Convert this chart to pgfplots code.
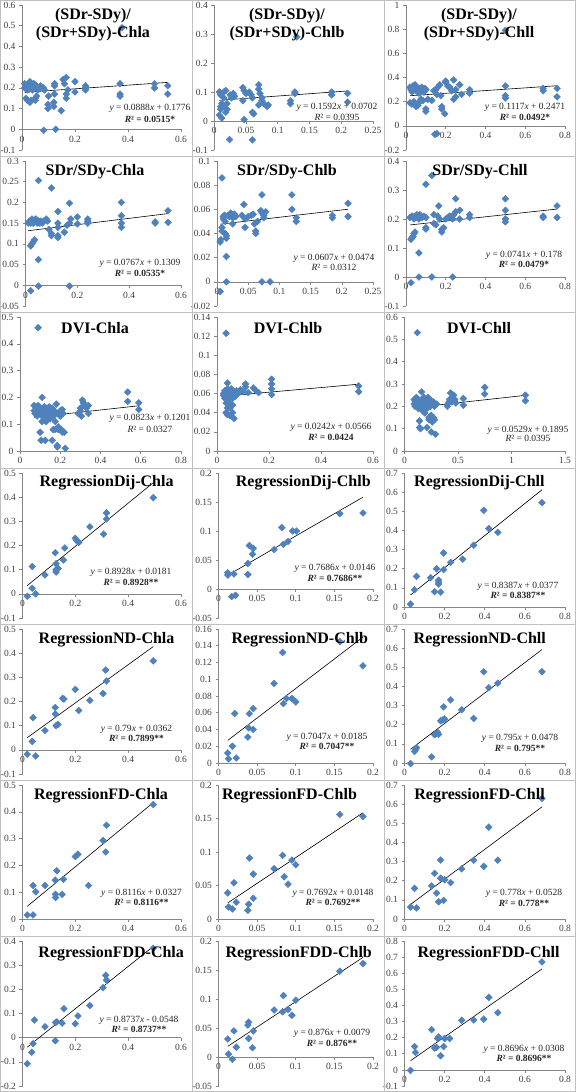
\documentclass[border=0pt]{standalone}
\usepackage{fontspec}
\setmainfont{Liberation Serif}
\usepackage{pgfplots}
\pgfplotsset{compat=1.18}
\definecolor{mk}{HTML}{4F81BD}
\definecolor{axg}{HTML}{868686}
\definecolor{lbl}{HTML}{404040}
\definecolor{cellb}{HTML}{C0C0C0}
\pgfplotsset{
 panel/.style={
  scale only axis, anchor=south west,
  axis x line*=middle, axis y line*=left,
  axis line style={axg, line width=0.6pt},
  tick style={axg, line width=0.6pt}, tick align=outside, major tick length=3pt,
  ticklabel style={font=\fontsize{9.5}{10}\selectfont, text=lbl},
  /pgf/number format/assume math mode=true,
  /pgf/number format/fixed, /pgf/number format/precision=2,
  hide obscured x ticks=false, hide obscured y ticks=false,
  clip=false, enlargelimits=false,
 },
 pts/.style={only marks, mark=square*, mark size=2.4pt, mark options={fill=mk, draw=mk, rotate=45}},
 trend/.style={black, line width=0.6pt, no marks},
}
\tikzset{
 ttf/.style={font=\fontsize{16}{18}\selectfont\bfseries, align=center, inner sep=0pt},
 eqf/.style={font=\fontsize{9.5}{11}\selectfont, inner sep=0pt, text=black!85},
}
\newcommand{\TT}[3]{\node[ttf] at (#1pt,-#2pt) {#3};}
\newcommand{\EQ}[5]{\node[eqf] at (#1pt,-#2pt) {#4}; \node[eqf] at (#1pt,-#3pt) {#5};}
\begin{document}
\begin{tikzpicture}
\useasboundingbox (0pt,0pt) rectangle (576pt,-1092pt);
\fill[white] (0pt,0pt) rectangle (576pt,-1092pt);
% ---------- Row 1 ----------
\begin{axis}[panel, at={(22pt,-150pt)}, width=159pt, height=145pt, xmin=0, xmax=0.6, ymin=-0.1, ymax=0.6,
 xtick={0,0.2,0.4,0.6}, ytick={-0.1,0,0.1,0.2,0.3,0.4,0.5,0.6}]
\addplot[pts] coordinates {(0.01,0.22)(0.01,0.2)(0.015,0.21)(0.02,0.19)(0.025,0.22)(0.03,0.23)(0.03,0.2)(0.035,0.21)(0.04,0.19)(0.045,0.22)(0.05,0.2)(0.055,0.21)(0.06,0.19)(0.065,0.2)(0.07,0.21)(0.08,0.2)(0.085,0.19)
(0.015,0.15)(0.02,0.14)(0.03,0.13)(0.035,0.14)(0.05,0.15)(0.055,0.16)(0.05,0.14)
(0.082,-0.005)(0.098,0.1)(0.098,0.12)(0.1,0.16)(0.123,0.22)(0.123,0.21)(0.123,0.17)(0.12,0.11)(0.12,0.13)(0.127,0)(0.148,0.09)(0.155,0.24)(0.16,0.22)(0.167,0.25)(0.167,0.15)(0.167,0.17)(0.173,0.19)(0.2,0.23)(0.2,0.18)(0.24,0.21)(0.24,0.2)(0.24,0.19)(0.37,0.22)(0.37,0.17)(0.37,0.16)(0.5,0.22)(0.5,0.2)(0.55,0.21)(0.55,0.17)(0.377,0.49)};
\addplot[trend] coordinates {(0.01,0.1785)(0.55,0.2264)};
\end{axis}
\begin{axis}[panel, at={(214.3pt,-150pt)}, width=158.7pt, height=145pt, xmin=0, xmax=0.25, ymin=-0.1, ymax=0.4,
 xtick={0,0.05,0.1,0.15,0.2,0.25}, ytick={-0.1,0,0.1,0.2,0.3,0.4}]
\addplot[pts] coordinates {(0.008,0.1)(0.01,0.09)(0.01,0.05)(0.01,0.04)(0.008,0.02)(0.012,0.01)(0.012,0.06)(0.015,0.1)(0.015,0.08)(0.015,0.05)(0.018,0.03)(0.018,0.105)(0.02,0.06)(0.02,0.04)
(0.025,0.09)(0.027,0.08)(0.03,0.095)(0.032,0.085)(0.024,-0.064)
(0.045,0.115)(0.047,0.105)(0.05,0.095)(0.045,0.07)(0.047,0.005)(0.055,0.1)(0.058,0.09)(0.06,0.08)(0.06,0.03)(0.062,0.025)(0.06,-0.065)
(0.07,0.125)(0.07,0.11)(0.072,0.095)(0.075,0.08)(0.075,0.07)(0.078,0.06)(0.07,0.055)(0.085,0.055)(0.083,0.05)
(0.12,0.07)(0.12,0.06)(0.127,0.1)(0.127,0.095)(0.185,0.1)(0.185,0.09)(0.21,0.095)(0.21,0.065)(0.13,0.29)};
\addplot[trend] coordinates {(0.008,0.0715)(0.21,0.1036)};
\end{axis}
\begin{axis}[panel, at={(406pt,-150pt)}, width=159pt, height=145pt, xmin=0, xmax=0.8, ymin=-0.2, ymax=1,
 xtick={0,0.2,0.4,0.6,0.8}, ytick={-0.2,0,0.2,0.4,0.6,0.8,1}]
\addplot[pts] coordinates {(0.02,0.32)(0.025,0.3)(0.03,0.28)(0.035,0.33)(0.04,0.31)(0.045,0.34)(0.05,0.29)(0.055,0.32)(0.06,0.3)(0.065,0.27)(0.07,0.31)(0.075,0.29)(0.08,0.32)(0.085,0.3)(0.09,0.28)(0.095,0.31)(0.1,0.3)
(0.02,0.19)(0.03,0.18)(0.04,0.2)(0.05,0.16)(0.06,0.17)(0.07,0.2)(0.075,0.22)(0.085,0.21)
(0.1,0.14)(0.1,0.12)(0.11,0.22)(0.13,0.21)(0.14,0.29)(0.15,0.3)(0.155,0.26)(0.16,0.32)(0.17,0.34)(0.175,0.25)(0.18,0.16)(0.18,0.14)(0.195,0.1)(0.2,0.36)(0.2,0.37)(0.21,0.33)(0.22,0.32)(0.23,0.29)(0.24,0.38)(0.24,0.22)(0.25,0.24)(0.25,0.3)(0.27,0.34)(0.28,0.26)
(0.145,-0.07)(0.155,-0.065)(0.32,0.3)(0.32,0.27)(0.5,0.33)(0.5,0.25)(0.5,0.23)(0.69,0.31)(0.69,0.29)(0.76,0.31)(0.76,0.24)(0.5,0.79)};
\addplot[trend] coordinates {(0.02,0.2493)(0.76,0.332)};
\end{axis}
% ---------- Row 2 ----------
\begin{axis}[panel, at={(25.5pt,-306pt)}, width=155.5pt, height=145pt, xmin=0, xmax=0.6, ymin=-0.05, ymax=0.3,
 xtick={0,0.2,0.4,0.6}, ytick={-0.05,0,0.05,0.1,0.15,0.2,0.25,0.3}]
\addplot[pts] coordinates {(0.01,0.15)(0.015,0.155)(0.02,0.15)(0.025,0.16)(0.03,0.15)(0.035,0.155)(0.04,0.16)(0.045,0.15)(0.05,0.155)(0.055,0.15)(0.06,0.155)(0.065,0.15)(0.07,0.155)(0.08,0.16)(0.085,0.155)
(0.02,0.095)(0.025,0.1)(0.03,0.105)(0.035,0.11)(0.02,-0.013)(0.05,-0.002)(0.05,0.062)(0.05,0.253)
(0.09,0.135)(0.1,0.12)(0.1,0.125)(0.1,0.235)(0.125,0.178)(0.125,0.15)(0.125,0.14)(0.125,0.115)(0.125,0.12)
(0.15,0.128)(0.16,0.145)(0.17,0.198)(0.17,0.15)(0.175,0.16)(0.17,-0.002)(0.2,0.165)(0.2,0.148)(0.24,0.16)(0.24,0.155)(0.24,0.15)
(0.37,0.2)(0.37,0.168)(0.37,0.15)(0.37,0.14)(0.5,0.153)(0.5,0.15)(0.55,0.18)(0.55,0.152)};
\addplot[trend] coordinates {(0.01,0.1317)(0.55,0.1731)};
\end{axis}
\begin{axis}[panel, at={(217pt,-306pt)}, width=156pt, height=145pt, xmin=0, xmax=0.25, ymin=-0.02, ymax=0.1,
 xtick={0,0.05,0.1,0.15,0.2,0.25}, ytick={-0.02,0,0.02,0.04,0.06,0.08,0.1}]
\addplot[pts] coordinates {(0.005,0.033)(0.006,0.035)(0.008,0.042)(0.008,0.045)(0.01,0.054)(0.01,0.052)(0.005,-0.008)(0.008,0.086)
(0.012,0.055)(0.013,0.05)(0.013,0.04)(0.015,0.038)(0.015,0.036)(0.015,0.021)(0.015,0)(0.017,0.055)
(0.02,0.054)(0.022,0.057)(0.025,0.053)(0.025,0.048)(0.028,0.056)(0.03,0.054)
(0.04,0.055)(0.043,0.064)(0.045,0.045)(0.045,0.052)(0.05,0.054)(0.055,0.055)(0.058,0.056)(0.06,0.048)(0.062,0.042)(0.062,0.04)(0.065,0.05)
(0.07,0.059)(0.072,0.072)(0.072,0.057)(0.075,0.055)(0.075,0.053)(0.078,0.058)(0.072,0)(0.085,0)
(0.12,0.072)(0.12,0.06)(0.127,0.053)(0.127,0.05)(0.185,0.055)(0.185,0.053)(0.21,0.065)(0.21,0.054)};
\addplot[trend] coordinates {(0.005,0.0477)(0.21,0.0601)};
\end{axis}
\begin{axis}[panel, at={(406pt,-306pt)}, width=159pt, height=145pt, xmin=0, xmax=0.8, ymin=-0.1, ymax=0.4,
 xtick={0,0.2,0.4,0.6,0.8}, ytick={-0.1,0,0.1,0.2,0.3,0.4}]
\addplot[pts] coordinates {(0.02,0.205)(0.03,0.21)(0.04,0.2)(0.045,0.21)(0.05,0.205)(0.055,0.215)(0.06,0.21)(0.065,0.2)(0.07,0.215)(0.075,0.21)(0.08,0.205)(0.09,0.21)(0.1,0.205)
(0.025,0.13)(0.03,0.135)(0.035,0.14)(0.04,0.15)(0.045,0.155)(0.025,-0.02)(0.065,0.083)(0.065,0)
(0.1,0.32)(0.1,0.17)(0.1,0.165)(0.13,0.35)(0.13,0)(0.14,0.215)(0.14,0.185)(0.15,0.18)(0.16,0.21)(0.165,0.245)(0.17,0.2)(0.18,0.155)(0.18,0.165)(0.19,0.17)(0.2,0.2)(0.21,0.205)(0.22,0.21)(0.235,0.2)(0.235,0)(0.24,0.215)(0.25,0.27)(0.25,0.225)(0.27,0.23)(0.27,0.2)
(0.32,0.215)(0.32,0.205)(0.5,0.27)(0.5,0.23)(0.5,0.2)(0.5,0.19)(0.69,0.21)(0.69,0.205)(0.76,0.245)(0.76,0.205)};
\addplot[trend] coordinates {(0.02,0.1795)(0.76,0.2343)};
\end{axis}
% ---------- Row 3 ----------
\begin{axis}[panel, at={(20pt,-451pt)}, width=161pt, height=134pt, xmin=0, xmax=0.8, ymin=0, ymax=0.5,
 xtick={0,0.2,0.4,0.6,0.8}, ytick={0,0.1,0.2,0.3,0.4,0.5}]
\addplot[pts] coordinates {(0.07,0.17)(0.07,0.15)(0.075,0.14)(0.08,0.16)(0.085,0.13)(0.09,0.15)(0.09,0.17)(0.1,0.14)(0.1,0.16)(0.1,0.07)(0.105,0.04)(0.11,0.2)(0.11,0.13)(0.11,0.11)(0.115,0.15)(0.12,0.165)(0.12,0.12)(0.125,0.14)(0.125,0.04)(0.13,0.16)(0.13,0.11)(0.135,0.15)(0.14,0.13)(0.145,0.165)(0.15,0.12)(0.15,0.15)(0.155,0.14)(0.16,0.16)(0.16,0.04)(0.165,0.08)(0.165,0.13)(0.17,0.15)(0.175,0.11)(0.175,0.08)(0.18,0.175)(0.18,0.14)(0.185,0.02)(0.185,0.015)(0.19,0.09)(0.19,0.08)(0.2,0.15)(0.2,0.13)(0.205,0.08)(0.21,0.155)(0.21,0.07)(0.215,0.14)(0.22,0.07)(0.225,0.01)
(0.29,0.14)(0.3,0.16)(0.3,0.15)(0.305,0.13)(0.31,0.19)(0.315,0.18)(0.32,0.17)(0.33,0.16)(0.34,0.14)(0.34,0.17)
(0.535,0.22)(0.535,0.185)(0.59,0.18)(0.59,0.155)(0.09,0.46)};
\addplot[trend] coordinates {(0.07,0.1259)(0.59,0.1687)};
\end{axis}
\begin{axis}[panel, at={(217pt,-451pt)}, width=156pt, height=134pt, xmin=0, xmax=0.6, ymin=0, ymax=0.14,
 xtick={0,0.2,0.4,0.6}, ytick={0,0.02,0.04,0.06,0.08,0.1,0.12,0.14}]
\addplot[pts] coordinates {(0.025,0.06)(0.025,0.058)(0.03,0.063)(0.03,0.055)(0.035,0.06)(0.035,0.05)(0.035,0.04)(0.04,0.071)(0.04,0.065)(0.04,0.058)(0.04,0.045)(0.04,0.038)(0.045,0.062)(0.045,0.055)(0.05,0.06)(0.05,0.05)(0.05,0.045)(0.05,0.037)(0.055,0.065)(0.055,0.058)(0.06,0.055)(0.06,0.048)(0.06,0.04)(0.065,0.062)(0.065,0.034)(0.07,0.06)(0.07,0.057)(0.075,0.063)(0.08,0.06)(0.09,0.064)(0.1,0.062)(0.11,0.067)(0.11,0.07)(0.12,0.061)(0.14,0.066)(0.15,0.063)(0.16,0.061)
(0.035,0.123)(0.21,0.075)(0.21,0.07)(0.21,0.065)(0.21,0.059)(0.545,0.068)(0.545,0.062)};
\addplot[trend] coordinates {(0.025,0.0572)(0.545,0.0698)};
\end{axis}
\begin{axis}[panel, at={(404.5pt,-451pt)}, width=160.5pt, height=134pt, xmin=0, xmax=1.5, ymin=0, ymax=0.6,
 xtick={0,0.5,1,1.5}, ytick={0,0.1,0.2,0.3,0.4,0.5,0.6}]
\addplot[pts] coordinates {(0.09,0.23)(0.09,0.21)(0.1,0.22)(0.1,0.2)(0.11,0.24)(0.12,0.21)(0.13,0.19)(0.13,0.23)(0.14,0.22)(0.14,0.135)(0.14,0.105)(0.15,0.2)(0.15,0.1)(0.16,0.265)(0.16,0.23)(0.17,0.18)(0.17,0.21)(0.18,0.24)(0.18,0.22)(0.19,0.2)(0.19,0.17)(0.2,0.23)(0.2,0.21)(0.21,0.19)(0.21,0.105)(0.22,0.24)(0.22,0.22)(0.23,0.15)(0.23,0.14)(0.24,0.2)(0.24,0.23)(0.25,0.16)(0.25,0.14)(0.25,0.085)(0.26,0.21)(0.26,0.13)(0.27,0.22)(0.27,0.15)(0.28,0.2)(0.28,0.14)(0.29,0.075)(0.3,0.21)
(0.4,0.2)(0.41,0.215)(0.42,0.23)(0.43,0.26)(0.44,0.22)(0.45,0.24)(0.46,0.25)(0.47,0.23)(0.48,0.215)
(0.55,0.235)(0.55,0.205)(0.75,0.285)(0.75,0.255)(1.13,0.25)(1.13,0.225)(0.12,0.53)};
\addplot[trend] coordinates {(0.09,0.1943)(1.13,0.2493)};
\end{axis}
% ---------- Row 4 ----------
\begin{axis}[panel, at={(22.5pt,-618pt)}, width=158.5pt, height=145pt, xmin=0, xmax=0.6, ymin=-0.1, ymax=0.5,
 xtick={0,0.2,0.4,0.6}, ytick={-0.1,0,0.1,0.2,0.3,0.4,0.5}]
\addplot[pts] coordinates {(0.018,-0.01)(0.037,0.113)(0.037,0.023)(0.05,0)(0.085,0.078)(0.124,0.17)(0.127,0.125)(0.127,0.1)(0.127,0.09)(0.135,0.105)(0.155,0.14)(0.16,0.19)(0.2,0.23)(0.205,0.22)(0.213,0.213)(0.255,0.277)(0.307,0.247)(0.318,0.31)(0.318,0.335)(0.495,0.398)};
\addplot[trend] coordinates {(0.018,0.0342)(0.495,0.46)};
\end{axis}
\begin{axis}[panel, at={(218.5pt,-618pt)}, width=154.5pt, height=145pt, xmin=0, xmax=0.2, ymin=-0.05, ymax=0.2,
 xtick={0,0.05,0.1,0.15,0.2}, ytick={-0.05,0,0.05,0.1,0.15,0.2}]
\addplot[pts] coordinates {(0.012,0.028)(0.012,0.024)(0.02,0.026)(0.017,-0.013)(0.022,-0.011)(0.038,0.044)(0.038,0.025)(0.04,0.075)(0.045,0.07)(0.044,0.06)(0.072,0.068)(0.082,0.106)(0.084,0.077)(0.09,0.082)(0.096,0.1)(0.101,0.1)(0.157,0.13)(0.187,0.131)};
\addplot[trend] coordinates {(0.012,0.0238)(0.187,0.1583)};
\end{axis}
\begin{axis}[panel, at={(404.5pt,-607pt)}, width=160.5pt, height=134pt, xmin=0, xmax=0.8, ymin=0, ymax=0.7,
 xtick={0,0.2,0.4,0.6,0.8}, ytick={0,0.1,0.2,0.3,0.4,0.5,0.6,0.7}]
\addplot[pts] coordinates {(0.03,0.015)(0.05,0.09)(0.06,0.16)(0.13,0.153)(0.15,0.08)(0.16,0.2)(0.17,0.14)(0.17,0.12)(0.17,0.13)(0.18,0.078)(0.195,0.195)(0.195,0.282)(0.23,0.233)(0.29,0.25)(0.345,0.323)(0.395,0.505)(0.42,0.41)(0.465,0.39)(0.685,0.545)};
\addplot[trend] coordinates {(0.03,0.0629)(0.685,0.6122)};
\end{axis}
% ---------- Row 5 ----------
\begin{axis}[panel, at={(22.5pt,-774pt)}, width=158.5pt, height=145pt, xmin=0, xmax=0.6, ymin=-0.1, ymax=0.5,
 xtick={0,0.2,0.4,0.6}, ytick={-0.1,0,0.1,0.2,0.3,0.4,0.5}]
\addplot[pts] coordinates {(0.018,-0.018)(0.037,0.035)(0.04,0.133)(0.05,-0.025)(0.085,0.08)(0.124,0.175)(0.124,0.148)(0.127,0.1)(0.134,0.105)(0.152,0.213)(0.157,0.21)(0.2,0.25)(0.213,0.163)(0.255,0.205)(0.305,0.233)(0.315,0.33)(0.318,0.285)(0.495,0.368)};
\addplot[trend] coordinates {(0.018,0.0504)(0.495,0.4273)};
\end{axis}
\begin{axis}[panel, at={(218.5pt,-763pt)}, width=154.5pt, height=134pt, xmin=0, xmax=0.2, ymin=0, ymax=0.16,
 xtick={0,0.05,0.1,0.15,0.2}, ytick={0,0.02,0.04,0.06,0.08,0.1,0.12,0.14,0.16}]
\addplot[pts] coordinates {(0.012,0.012)(0.013,0.005)(0.018,0.02)(0.021,0.059)(0.023,0.006)(0.038,0.031)(0.039,0.042)(0.04,0.059)(0.045,0.065)(0.045,0.04)(0.072,0.095)(0.083,0.132)(0.084,0.071)(0.088,0.077)(0.095,0.077)(0.1,0.073)(0.157,0.145)(0.187,0.116)};
\addplot[trend] coordinates {(0.012,0.027)(0.187,0.1503)};
\end{axis}
\begin{axis}[panel, at={(404.5pt,-763pt)}, width=160.5pt, height=134pt, xmin=0, xmax=0.8, ymin=0, ymax=0.7,
 xtick={0,0.2,0.4,0.6,0.8}, ytick={0,0.1,0.2,0.3,0.4,0.5,0.6,0.7}]
\addplot[pts] coordinates {(0.03,-0.003)(0.05,0.06)(0.055,0.07)(0.06,0.08)(0.135,0.032)(0.15,0.148)(0.16,0.155)(0.165,0.16)(0.17,0.15)(0.18,0.22)(0.19,0.225)(0.195,0.293)(0.2,0.23)(0.23,0.33)(0.285,0.278)(0.345,0.233)(0.395,0.477)(0.42,0.393)(0.465,0.417)(0.685,0.477)};
\addplot[trend] coordinates {(0.03,0.0717)(0.685,0.5924)};
\end{axis}
% ---------- Row 6 ----------
\begin{axis}[panel, at={(22.5pt,-919pt)}, width=158.5pt, height=134pt, xmin=0, xmax=0.6, ymin=0, ymax=0.5,
 xtick={0,0.2,0.4,0.6}, ytick={0,0.1,0.2,0.3,0.4,0.5}]
\addplot[pts] coordinates {(0.018,0.015)(0.04,0.015)(0.04,0.125)(0.05,0.102)(0.085,0.125)(0.124,0.145)(0.125,0.092)(0.125,0.08)(0.13,0.18)(0.15,0.092)(0.155,0.148)(0.2,0.233)(0.21,0.242)(0.25,0.125)(0.305,0.293)(0.315,0.25)(0.318,0.35)(0.495,0.427)};
\addplot[trend] coordinates {(0.018,0.0473)(0.495,0.4344)};
\end{axis}
\begin{axis}[panel, at={(218.5pt,-919pt)}, width=154.5pt, height=134pt, xmin=0, xmax=0.2, ymin=0, ymax=0.2,
 xtick={0,0.05,0.1,0.15,0.2}, ytick={0,0.05,0.1,0.15,0.2}]
\addplot[pts] coordinates {(0.012,0.039)(0.013,0.018)(0.018,0.015)(0.02,0.054)(0.023,0.025)(0.038,0.013)(0.039,0.022)(0.04,0.091)(0.045,0.067)(0.045,0.031)(0.072,0.075)(0.083,0.095)(0.085,0.063)(0.09,0.052)(0.095,0.088)(0.1,0.081)(0.157,0.156)(0.187,0.153)};
\addplot[trend] coordinates {(0.012,0.024)(0.187,0.1586)};
\end{axis}
\begin{axis}[panel, at={(404.5pt,-919pt)}, width=160.5pt, height=134pt, xmin=0, xmax=0.8, ymin=0, ymax=0.7,
 xtick={0,0.2,0.4,0.6,0.8}, ytick={0,0.1,0.2,0.3,0.4,0.5,0.6,0.7}]
\addplot[pts] coordinates {(0.03,0.063)(0.05,0.16)(0.06,0.058)(0.135,0.173)(0.15,0.238)(0.16,0.135)(0.17,0.09)(0.18,0.213)(0.18,0.308)(0.195,0.097)(0.2,0.205)(0.23,0.19)(0.285,0.262)(0.345,0.307)(0.395,0.275)(0.42,0.48)(0.465,0.307)(0.685,0.63)};
\addplot[trend] coordinates {(0.03,0.0761)(0.685,0.5857)};
\end{axis}
% ---------- Row 7 ----------
\begin{axis}[panel, at={(22.5pt,-1086pt)}, width=158.5pt, height=145pt, xmin=0, xmax=0.6, ymin=-0.2, ymax=0.4,
 xtick={0,0.2,0.4,0.6}, ytick={-0.2,-0.1,0,0.1,0.2,0.3,0.4}]
\addplot[pts] coordinates {(0.018,-0.108)(0.035,-0.06)(0.04,-0.025)(0.045,0.073)(0.085,0.045)(0.124,-0.013)(0.125,0.063)(0.13,0.065)(0.15,0.06)(0.157,0.12)(0.2,0.058)(0.21,0.09)(0.255,0.133)(0.305,0.207)(0.315,0.258)(0.318,0.238)(0.495,0.37)};
\addplot[trend] coordinates {(0.018,-0.0391)(0.495,0.3777)};
\end{axis}
\begin{axis}[panel, at={(218.5pt,-1086pt)}, width=154.5pt, height=145pt, xmin=0, xmax=0.2, ymin=-0.05, ymax=0.2,
 xtick={0,0.05,0.1,0.15,0.2}, ytick={-0.05,0,0.05,0.1,0.15,0.2}]
\addplot[pts] coordinates {(0.012,0.031)(0.013,0.005)(0.018,-0.004)(0.02,0.045)(0.023,0.017)(0.038,0.055)(0.039,0.06)(0.039,0.032)(0.045,0.045)(0.044,0.016)(0.072,0.081)(0.083,0.078)(0.084,0.106)(0.09,0.082)(0.095,0.072)(0.1,0.098)(0.157,0.148)(0.187,0.161)};
\addplot[trend] coordinates {(0.012,0.0184)(0.187,0.1717)};
\end{axis}
\begin{axis}[panel, at={(404.5pt,-1086pt)}, width=160.5pt, height=145pt, xmin=0, xmax=0.8, ymin=-0.1, ymax=0.8,
 xtick={0,0.2,0.4,0.6,0.8}, ytick={-0.1,0,0.1,0.2,0.3,0.4,0.5,0.6,0.7,0.8}]
\addplot[pts] coordinates {(0.03,-0.003)(0.05,0.145)(0.055,0.108)(0.135,0.25)(0.15,0.135)(0.16,0.14)(0.165,0.195)(0.17,0.205)(0.18,0.088)(0.195,0.145)(0.2,0.195)(0.225,0.195)(0.285,0.308)(0.345,0.31)(0.395,0.315)(0.42,0.45)(0.465,0.355)(0.685,0.67)};
\addplot[trend] coordinates {(0.03,0.0569)(0.685,0.6265)};
\end{axis}
% ---------- titles ----------
\TT{93}{24.5}{(SDr-SDy)/\\(SDr+SDy)-Chla}
\TT{287}{24.5}{(SDr-SDy)/\\(SDr+SDy)-Chlb}
\TT{479}{24.5}{(SDr-SDy)/\\(SDr+SDy)-Chll}
\TT{95}{171.7}{SDr/SDy-Chla}
\TT{287}{171.7}{SDr/SDy-Chlb}
\TT{480}{171.7}{SDr/SDy-Chll}
\TT{95}{328.3}{DVI-Chla}
\TT{288}{328.3}{DVI-Chlb}
\TT{479}{328.3}{DVI-Chll}
\TT{106.6}{482.7}{RegressionDij-Chla}
\TT{303.3}{482.7}{RegressionDij-Chlb}
\TT{479.4}{482.7}{RegressionDij-Chll}
\TT{106.6}{639.3}{RegressionND-Chla}
\TT{299.8}{639.3}{RegressionND-Chlb}
\TT{479.8}{639.3}{RegressionND-Chll}
\TT{101}{795.3}{RegressionFD-Chla}
\TT{289.5}{795.3}{RegressionFD-Chlb}
\TT{479.6}{795.3}{RegressionFD-Chll}
\TT{111.2}{953.7}{RegressionFDD-Chla}
\TT{298.7}{953.7}{RegressionFDD-Chlb}
\TT{488.6}{953.7}{RegressionFDD-Chll}
% ---------- equations ----------
\EQ{150}{108}{119}{\textit{y} = 0.0888\textit{x} + 0.1776}{\textbf{\textit{R}² = 0.0515*}}
\EQ{337}{107}{117}{\textit{y} = 0.1592\textit{x} + 0.0702}{\textit{R}² = 0.0395}
\EQ{525}{107}{117}{\textit{y} = 0.1117\textit{x} + 0.2471}{\textbf{\textit{R}² = 0.0492*}}
\EQ{140}{263}{273}{\textit{y} = 0.0767\textit{x} + 0.1309}{\textbf{\textit{R}² = 0.0535*}}
\EQ{334}{258}{267}{\textit{y} = 0.0607\textit{x} + 0.0474}{\textit{R}² = 0.0312}
\EQ{524}{255}{264}{\textit{y} = 0.0741\textit{x} + 0.178}{\textbf{\textit{R}² = 0.0479*}}
\EQ{150}{418}{429}{\textit{y} = 0.0823\textit{x} + 0.1201}{\textit{R}² = 0.0327}
\EQ{331}{427}{437}{\textit{y} = 0.0242\textit{x} + 0.0566}{\textbf{\textit{R}² = 0.0424}}
\EQ{528}{430}{438}{\textit{y} = 0.0529\textit{x} + 0.1895}{\textit{R}² = 0.0395}
\EQ{131}{572}{582}{\textit{y} = 0.8928\textit{x} + 0.0181}{\textbf{\textit{R}² = 0.8928**}}
\EQ{335}{568}{578}{\textit{y} = 0.7686\textit{x} + 0.0146}{\textbf{\textit{R}² = 0.7686**}}
\EQ{518}{586}{595}{\textit{y} = 0.8387\textit{x} + 0.0377}{\textbf{\textit{R}² = 0.8387**}}
\EQ{136.5}{729}{738}{\textit{y} = 0.79\textit{x} + 0.0362}{\textbf{\textit{R}² = 0.7899**}}
\EQ{327}{737}{746}{\textit{y} = 0.7047\textit{x} + 0.0185}{\textbf{\textit{R}² = 0.7047**}}
\EQ{520}{738}{748}{\textit{y} = 0.795\textit{x} + 0.0478}{\textbf{\textit{R}² = 0.795**}}
\EQ{141.5}{893}{902}{\textit{y} = 0.8116\textit{x} + 0.0327}{\textbf{\textit{R}² = 0.8116**}}
\EQ{333}{893}{902}{\textit{y} = 0.7692\textit{x} + 0.0148}{\textbf{\textit{R}² = 0.7692**}}
\EQ{524}{893}{903}{\textit{y} = 0.778\textit{x} + 0.0528}{\textbf{\textit{R}² = 0.778**}}
\EQ{139}{1020}{1029}{\textit{y} = 0.8737\textit{x} - 0.0548}{\textbf{\textit{R}² = 0.8737**}}
\EQ{332}{1033}{1043}{\textit{y} = 0.876\textit{x} + 0.0079}{\textbf{\textit{R}² = 0.876**}}
\EQ{524}{1049}{1058}{\textit{y} = 0.8696\textit{x} + 0.0308}{\textbf{\textit{R}² = 0.8696**}}
% ---------- cell borders ----------
\draw[cellb, line width=1pt] (0.5pt,-0.5pt) rectangle (575.5pt,-1091.5pt);
\foreach \xx in {192,384} {\draw[cellb, line width=1pt] (\xx pt,0pt) -- (\xx pt,-1092pt);}
\foreach \yy in {156,312,468,624,780,936} {\draw[cellb, line width=1pt] (0pt,-\yy pt) -- (576pt,-\yy pt);}
\end{tikzpicture}
\end{document}
